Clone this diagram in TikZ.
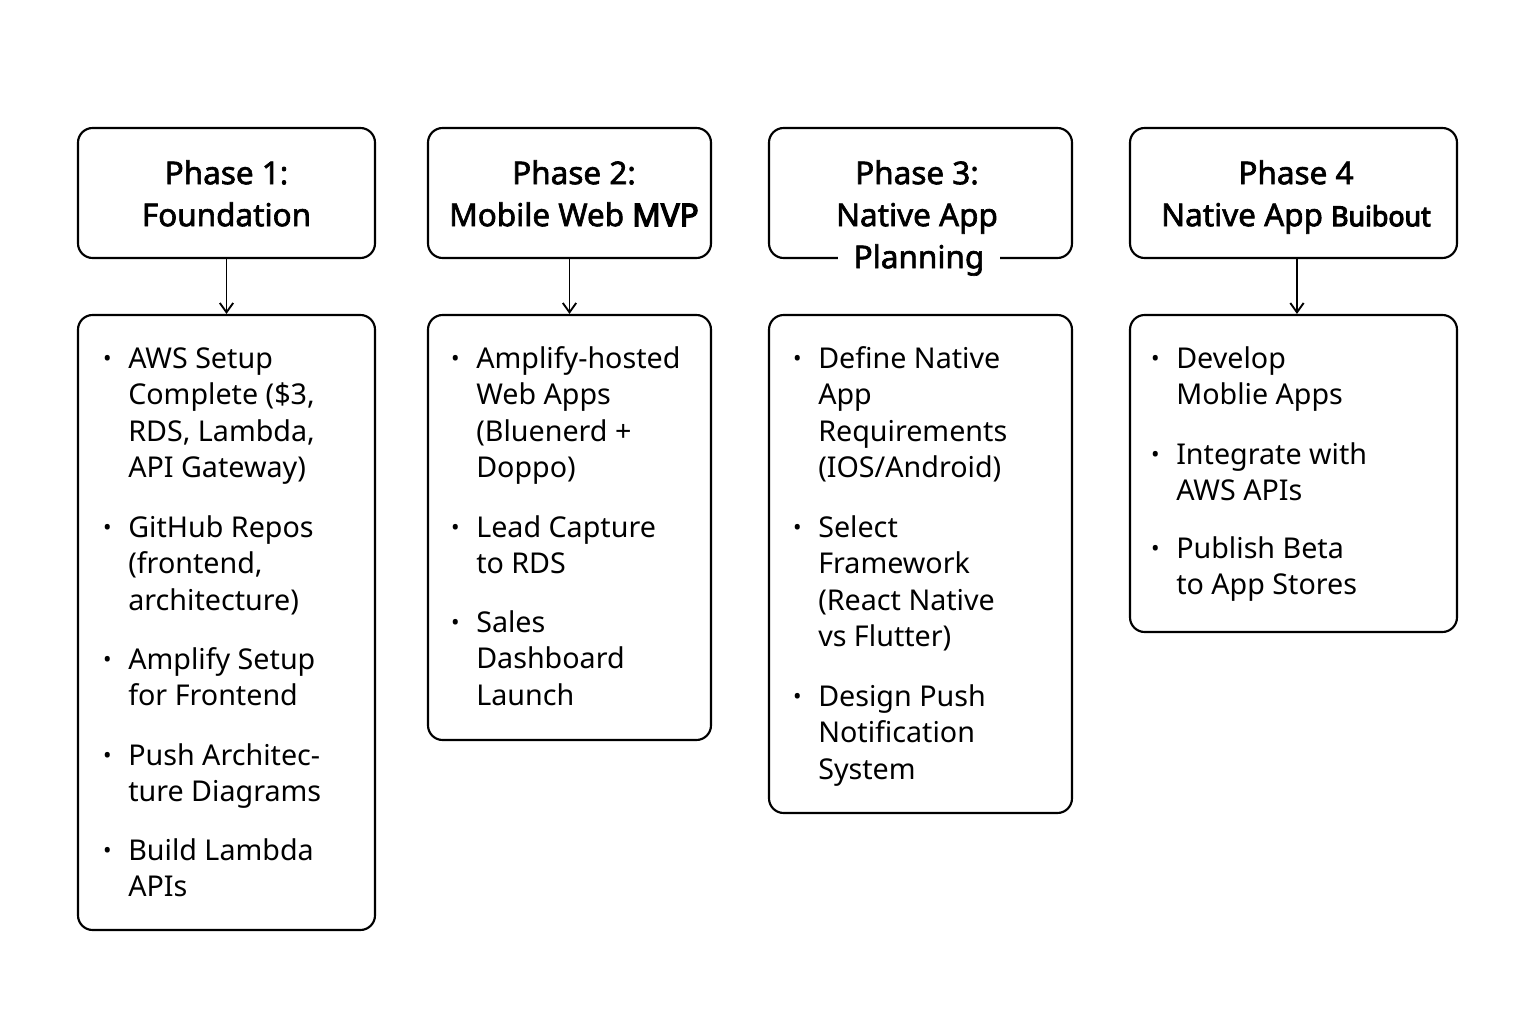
\documentclass[tikz,border=0pt]{standalone}
\usepackage{fontspec}
\usepackage{graphicx}
\setmainfont{Noto Sans}
\newfontfamily\headfont[FakeBold=2]{Noto Sans}
\newfontfamily\heavyfont[FakeBold=4]{Noto Sans}
\usetikzlibrary{arrows.meta,fit}
\newcommand\bul{\leavevmode\llap{\raisebox{1.5pt}{\fontsize{17}{17}\selectfont\textbullet}\hspace{12.5pt}}}
\begin{document}
\begin{tikzpicture}[x=0.75pt,y=-0.75pt,
  box/.style={draw=black, line width=1.6pt, rounded corners=11pt, inner sep=0pt},
  head/.style={font=\headfont\fontsize{23.6}{31.5}\selectfont, align=center, inner sep=0pt, anchor=north},
  item/.style={font=\fontsize{21.5}{27.4}\selectfont, align=left, inner sep=0pt, anchor=north west},
  arr/.style={line width=1.4pt, -{Straight Barb[length=7pt,width=10pt]}}]
\useasboundingbox (0,0) rectangle (1536,1024);
% header boxes
\node[box, fit={(78,128)(375,258)}] (h1) {};
\node[box, fit={(428,128)(711,258)}] (h2) {};
\node[box, fit={(769,128)(1072,258)}] (h3) {};
\node[box, fit={(1130,128)(1457,258)}] (h4) {};
% body boxes
\node[box, fit={(78,315)(375,930)}] (b1) {};
\node[box, fit={(428,315)(711,740)}] (b2) {};
\node[box, fit={(769,315)(1072,813)}] (b3) {};
\node[box, fit={(1130,315)(1457,632)}] (b4) {};
% header texts
\node[head] (t1) at (226.5,160) {Phase 1:\\Foundation};
\node[head] (t2) at (574,160) {Phase 2:\\Mobile Web {\heavyfont MVP}};
\node[head] (t3) at (917,160) {Phase 3:\\Native App};
\node[head, fill=white, inner xsep=12pt] (t3b) at (919,244) {Planning};
\node[head] (t4) at (1296,160) {Phase 4\\Native App {\heavyfont\scalebox{0.85}[0.88]{Buibout}}};
% connectors
\draw[arr] (h1.south) -- (b1.north);
\draw[arr] (h2.south) -- (b2.north);
\draw[arr] ([xshift=2.6pt]h4.south) -- ([xshift=2.6pt]b4.north);
% body 1
\node[item] (i11) at (128,347) {\bul AWS Setup\\Complete (\$3,\\RDS, Lambda,\\API Gateway)};
\node[item] (i12) at (128,515) {\bul GitHub Repos\\(frontend,\\architecture)};
\node[item] (i13) at (128,647) {\bul Amplify Setup\\for Frontend};
\node[item] (i14) at (128,743) {\bul Push Architec-\\ture Diagrams};
\node[item] (i15) at (128,838) {\bul Build Lambda\\APIs};
% body 2
\node[item] (i21) at (476,346) {\bul Amplify-hosted\\Web Apps\\(Bluenerd +\\Doppo)};
\node[item] (i22) at (476,515) {\bul Lead Capture\\to RDS};
\node[item] (i23) at (476,610) {\bul Sales\\Dashboard\\Launch};
% body 3
\node[item] (i31) at (818,346) {\bul Define Native\\App\\Requirements\\(IOS/Android)};
\node[item] (i32) at (818,515) {\bul Select\\Framework\\(React Native\\vs Flutter)};
\node[item] (i33) at (818,684) {\bul Design Push\\Notification\\System};
% body 4
\node[item] (i41) at (1176,346) {\bul Develop\\Moblie Apps};
\node[item] (i42) at (1176,442) {\bul Integrate with\\AWS APIs};
\node[item] (i43) at (1176,536) {\bul Publish Beta\\to App Stores};
\end{tikzpicture}
\end{document}
